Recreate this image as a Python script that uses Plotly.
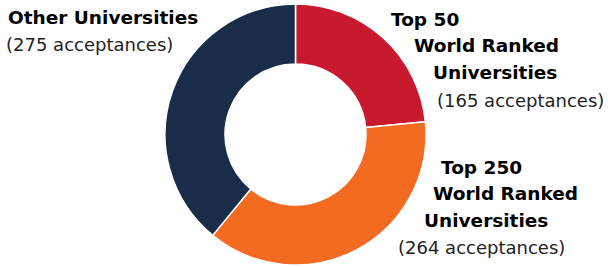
import plotly.graph_objects as go

categories = ["Top 50 World Ranked Universities", "Top 250 World Ranked Universities", "Other Universities"]
acceptances = [165, 264, 275]
colors = ["#C8192E", "#F26B21", "#192C4A"]

W, H = 608, 267

fig = go.Figure(go.Pie(
    labels=categories,
    values=acceptances,
    hole=0.54,
    sort=False,
    direction="clockwise",
    rotation=0,
    marker=dict(colors=colors, line=dict(color="white", width=1.5)),
    textinfo="none",
    hoverinfo="label+value",
    showlegend=False,
    domain=dict(x=[165 / W, 426 / W], y=[2 / H, 263 / H]),
))

FONT = "DejaVu Sans, sans-serif"

# (text, x_px_left, y_px_center, bold)
lines = [
    ("Other Universities", 7, 18, True),
    (f"({acceptances[2]} acceptances)", 5, 45, False),
    ("Top 50", 390, 20, True),
    ("World Ranked", 413, 46, True),
    ("Universities", 432, 72, True),
    (f"({acceptances[0]} acceptances)", 436, 100, False),
    ("Top 250", 440, 167, True),
    ("World Ranked", 432, 193, True),
    ("Universities", 423, 220, True),
    (f"({acceptances[1]} acceptances)", 397, 247, False),
]

for text, px, py, bold in lines:
    fig.add_annotation(
        x=px / W, y=1 - py / H, xref="paper", yref="paper",
        xanchor="left", yanchor="middle", showarrow=False,
        borderpad=0,
        text=f"<b>{text}</b>" if bold else text,
        font=dict(family=FONT, size=18.5 if bold else 18, color="#000000" if bold else "#222222"),
    )

fig.update_layout(
    width=W, height=H,
    margin=dict(l=0, r=0, t=0, b=0),
    paper_bgcolor="white",
    plot_bgcolor="white",
)

fig.write_html("out.html", config={"displayModeBar": False},
               post_script="document.body.style.margin='0';")
